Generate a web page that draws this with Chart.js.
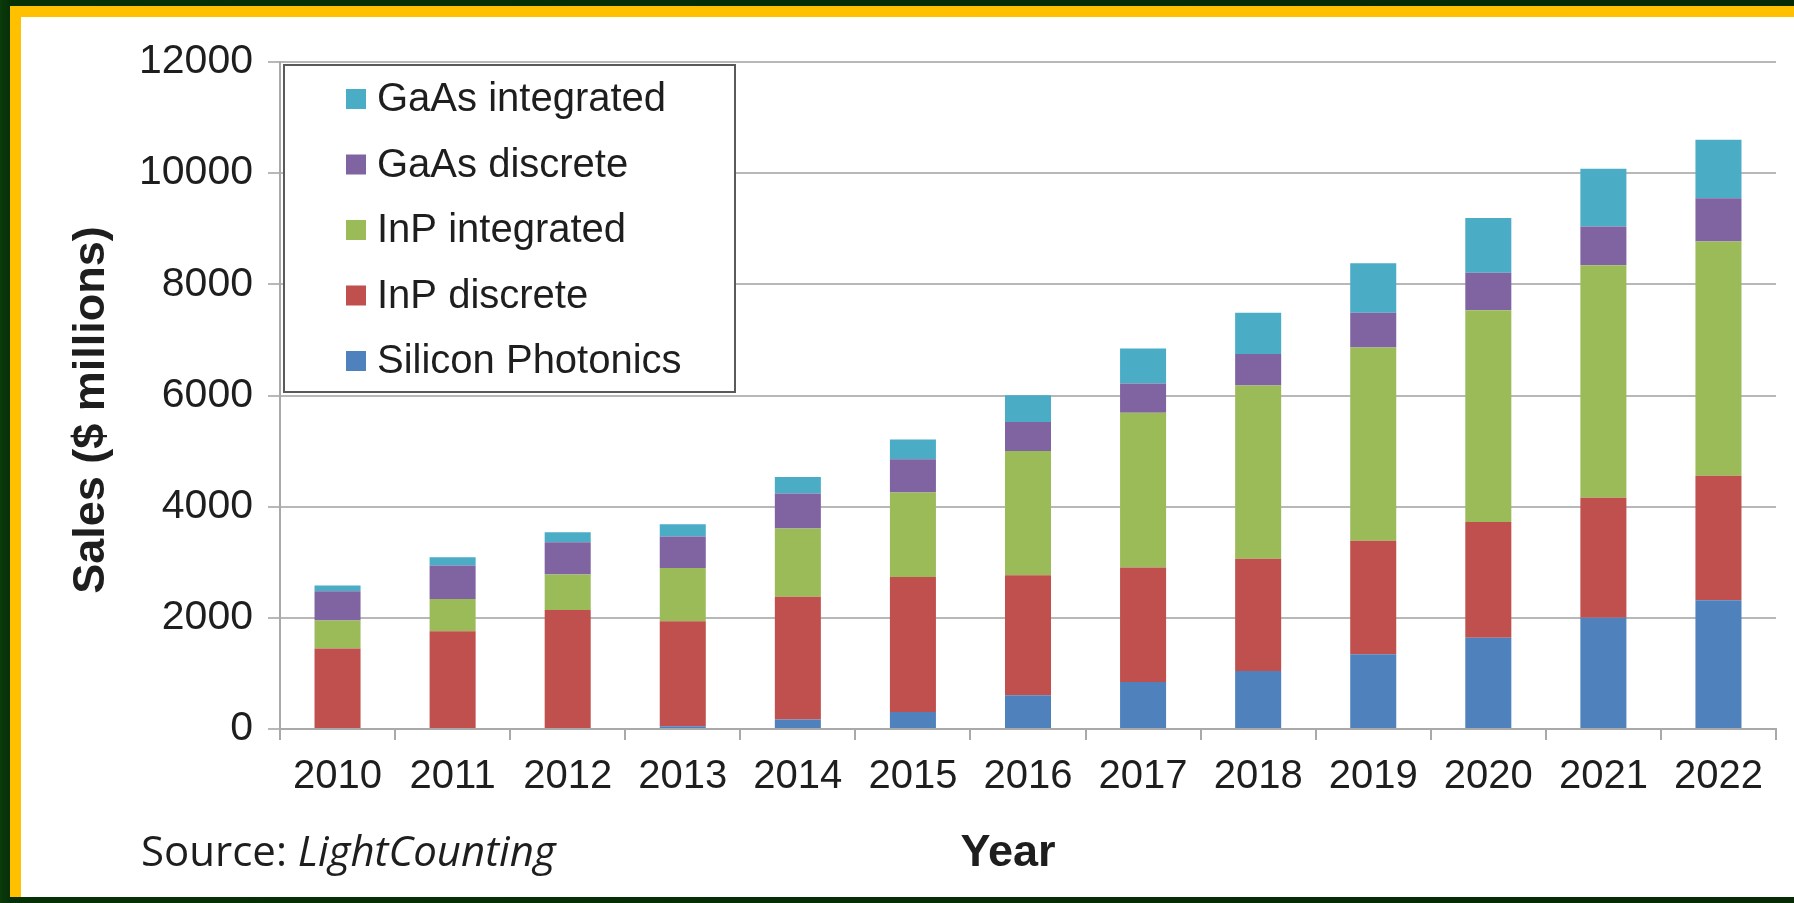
<!DOCTYPE html>
<html>
<head>
<meta charset="utf-8">
<title>Optical component sales by technology</title>
<script src="https://cdn.jsdelivr.net/npm/chart.js@4.4.1/dist/chart.umd.min.js"></script>
<style>
  html, body { margin: 0; padding: 0; background: #052a05; }
  #frame { position: relative; width: 1794px; height: 903px; overflow: hidden;
           background: linear-gradient(90deg, #0b3a0b 0px, #063006 10px, #052a05 100%); }
  #gold { position: absolute; left: 10px; top: 6px; right: 0; bottom: 6px; background: #ffc000; }
  #paper { position: absolute; left: 21px; top: 17px; right: 0; bottom: 6px; background: #ffffff; }
  #chart { position: absolute; left: 0; top: 0; }
</style>
</head>
<body>
<div id="frame">
  <div id="gold"></div>
  <div id="paper"></div>
  <canvas id="chart" width="1794" height="903"></canvas>
</div>
<script>
// Years on the category axis
const years = ['2010', '2011', '2012', '2013', '2014', '2015', '2016',
               '2017', '2018', '2019', '2020', '2021', '2022'];

// Sales per technology, $ millions (stacked bottom to top)
const siliconPhotonics = [0, 0, 0, 50, 170, 305, 605, 845, 1045, 1345, 1640, 2000, 2315];
const inpDiscrete      = [1450, 1760, 2140, 1890, 2210, 2430, 2160, 2060, 2020, 2040, 2085, 2160, 2240];
const inpIntegrated    = [500, 580, 640, 955, 1225, 1520, 2235, 2785, 3115, 3480, 3810, 4185, 4215];
const gaasDiscrete     = [530, 600, 580, 570, 630, 600, 525, 525, 565, 625, 675, 695, 780];
const gaasIntegrated   = [100, 150, 180, 220, 300, 355, 480, 630, 745, 890, 985, 1040, 1050];

// Value axis ticks
const yTicks = [0, 2000, 4000, 6000, 8000, 10000, 12000];

const seriesNames = ['Silicon Photonics', 'InP discrete', 'InP integrated', 'GaAs discrete', 'GaAs integrated'];
const seriesColors = ['#4f81bd', '#c0504d', '#9bbb59', '#8064a2', '#4bacc6'];
const seriesValues = [siliconPhotonics, inpDiscrete, inpIntegrated, gaasDiscrete, gaasIntegrated];

const AXIS_GREY = '#a9a9a9';
const GRID_GREY = '#b8b8b8';
const TEXT = '#1e1e1e';
const SANS = '"Liberation Sans", Arial, sans-serif';

// Legend box in the upper-left of the plot, listed top series first
const legendBox = {
  id: 'legendBox',
  afterDraw(chart) {
    const ctx = chart.ctx;
    const x0 = 284, y0 = 65, w = 451, h = 327;
    ctx.save();
    ctx.fillStyle = '#ffffff';
    ctx.fillRect(x0, y0, w, h);
    ctx.strokeStyle = '#5a5a5a';
    ctx.lineWidth = 2;
    ctx.strokeRect(x0, y0, w, h);
    ctx.font = '40px ' + SANS;
    ctx.textBaseline = 'middle';
    ctx.textAlign = 'left';
    const ds = chart.data.datasets.slice().reverse();
    ds.forEach((d, i) => {
      const cy = 99 + i * 65.5;
      ctx.fillStyle = d.backgroundColor;
      ctx.fillRect(346, cy - 10, 20, 20);
      ctx.fillStyle = TEXT;
      ctx.fillText(d.label, 377, cy + 1);
    });
    ctx.restore();
  }
};

// Axis titles and source note
const captions = {
  id: 'captions',
  afterDraw(chart) {
    const ctx = chart.ctx;
    ctx.save();
    ctx.fillStyle = TEXT;
    ctx.textBaseline = 'middle';
    ctx.textAlign = 'center';
    ctx.font = 'bold 45px ' + SANS;
    ctx.translate(92, 410);
    ctx.rotate(-Math.PI / 2);
    ctx.fillText('Sales ($ millions)', 0, 0);
    ctx.setTransform(1, 0, 0, 1, 0, 0);

    ctx.font = 'bold 45px ' + SANS;
    ctx.fillText('Year', 1008, 854);

    ctx.textAlign = 'left';
    ctx.font = '42px "Open Sans", "Noto Sans", sans-serif';
    const lead = 'Source: ';
    ctx.fillText(lead, 141, 854);
    const lw = ctx.measureText(lead).width;
    ctx.font = 'italic 42px "Open Sans", "Noto Sans", sans-serif';
    ctx.fillText('LightCounting', 141 + lw, 854);
    ctx.restore();
  }
};

new Chart(document.getElementById('chart'), {
  type: 'bar',
  data: {
    labels: years,
    datasets: seriesNames.map((name, i) => ({
      label: name,
      data: seriesValues[i],
      backgroundColor: seriesColors[i],
      borderWidth: 0,
      categoryPercentage: 1.0,
      barPercentage: 0.4
    }))
  },
  options: {
    responsive: false,
    animation: false,
    devicePixelRatio: 1,
    layout: { padding: { left: 21, top: 62, right: 18, bottom: 0 } },
    plugins: { legend: { display: false }, tooltip: { enabled: false } },
    scales: {
      x: {
        stacked: true,
        offset: true,
        grid: { drawOnChartArea: false, drawTicks: true, tickLength: 11, color: AXIS_GREY, lineWidth: 2, offset: true },
        border: { display: true, color: AXIS_GREY, width: 2 },
        ticks: { color: TEXT, padding: 13, maxRotation: 0, font: { family: SANS, size: 40 } },
        afterFit(scale) { scale.height = 903 - 729; }
      },
      y: {
        stacked: true,
        min: yTicks[0],
        max: yTicks[yTicks.length - 1],
        afterBuildTicks(scale) { scale.ticks = yTicks.map(v => ({ value: v })); },
        grid: { color: GRID_GREY, lineWidth: 2, drawTicks: true, tickLength: 12 },
        border: { display: true, color: AXIS_GREY, width: 2 },
        ticks: { color: TEXT, padding: 15, font: { family: SANS, size: 41 },
                 callback: (v) => String(v) },
        afterFit(scale) { scale.width = 280 - 21; }
      }
    }
  },
  plugins: [legendBox, captions]
});
</script>
</body>
</html>
